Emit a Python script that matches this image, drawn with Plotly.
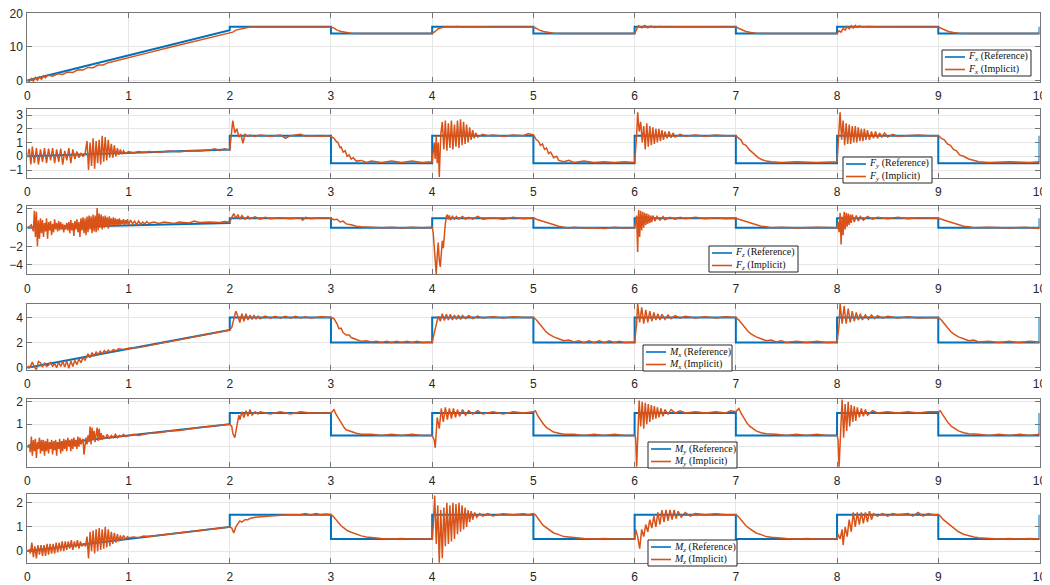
import plotly.graph_objects as go

# browser page has an 8px body margin; the figure is sized so it fits the 1050x585 window
OFF = 8
W, H = 1050 - OFF, 585 - OFF

# ---------------- data ----------------
t_ref = [0, 2, 2, 3, 3, 4, 4, 5, 5, 6, 6, 7, 7, 8, 8, 9, 9, 10, 10]
fx_ref = [0, 15, 16, 16, 14, 14, 16, 16, 14, 14, 16, 16, 14, 14, 16, 16, 14, 14, 16]
fy_ref = [0, 0.5, 1.5, 1.5, -0.5, -0.5, 1.5, 1.5, -0.5, -0.5, 1.5, 1.5, -0.5, -0.5, 1.5, 1.5, -0.5, -0.5, 1.5]
fz_ref = [0, 0.5, 1, 1, 0, 0, 1, 1, 0, 0, 1, 1, 0, 0, 1, 1, 0, 0, 1]
mx_ref = [0, 3, 4, 4, 2, 2, 4, 4, 2, 2, 4, 4, 2, 2, 4, 4, 2, 2, 4]
my_ref = [0, 1, 1.5, 1.5, 0.5, 0.5, 1.5, 1.5, 0.5, 0.5, 1.5, 1.5, 0.5, 0.5, 1.5, 1.5, 0.5, 0.5, 1.5]
mz_ref = [0, 1, 1.5, 1.5, 0.5, 0.5, 1.5, 1.5, 0.5, 0.5, 1.5, 1.5, 0.5, 0.5, 1.5, 1.5, 0.5, 0.5, 1.5]

fx_imp = [(0,0.2),(0.02,-0.3),(0.04,0.6),(0.06,-0.2),(0.08,0.9),(0.1,0.1),(0.12,1.1),(0.14,0.4),(0.16,1.4),(0.18,0.8),
          (0.2,1.6),(0.25,1.3),(0.3,2.0),(0.35,1.8),(0.4,2.5),(0.45,2.4),(0.5,3.2),(0.55,3.1),(0.6,3.9),(0.65,3.8),
          (0.7,4.6),(0.75,4.6),(0.8,5.3),(0.9,6.0),(1.0,6.8),(1.2,8.3),(1.4,9.8),(1.6,11.3),(1.8,12.8),(1.95,13.9),
          (2.0,14.2),(2.03,14.4),(2.06,15.0),(2.1,15.3),(2.15,15.7),(2.2,15.9),(2.3,15.9),(2.5,15.9),(2.7,15.9),(2.9,15.9),
          (3.0,15.9),(3.03,15.6),(3.06,15.0),(3.1,14.6),(3.15,14.3),(3.2,14.1),(3.3,14.0),(3.6,14.0),(4.0,14.0),
          (4.03,14.6),(4.06,15.4),(4.1,15.8),(4.15,16.1),(4.2,15.9),(4.25,16.1),(4.3,15.9),(4.4,16.0),(4.6,15.9),(5.0,15.9),
          (5.03,15.5),(5.06,15.0),(5.1,14.6),(5.15,14.3),(5.2,14.1),(5.3,14.0),(6.0,14.0),
          (6.02,15.2),(6.04,16.3),(6.07,15.7),(6.1,16.4),(6.13,15.7),(6.16,16.2),(6.2,15.8),(6.25,16.1),(6.3,15.9),(6.5,16.0),(7.0,15.9),
          (7.03,15.5),(7.06,15.0),(7.1,14.6),(7.15,14.3),(7.2,14.1),(7.3,14.0),(8.0,14.0),
          (8.02,14.8),(8.04,14.4),(8.06,15.5),(8.08,15.0),(8.1,16.0),(8.12,15.4),(8.14,16.3),(8.16,15.6),(8.18,16.4),(8.2,15.8),
          (8.22,16.3),(8.25,15.9),(8.3,16.1),(8.4,16.0),(9.0,15.9),
          (9.03,15.5),(9.06,15.0),(9.1,14.6),(9.15,14.3),(9.2,14.1),(9.3,14.0),(10.0,14.0)]

fy_imp = [(0,0.0),(0.02,0.55),(0.035,-0.6),(0.05,0.7),(0.07,-0.5),(0.09,0.6),(0.11,-0.6),(0.13,0.5),(0.15,-0.4),(0.17,0.6),
          (0.19,-0.5),(0.21,0.55),(0.23,-0.3),(0.25,0.6),(0.27,-0.5),(0.29,0.5),(0.31,-0.4),(0.33,0.55),(0.35,-0.6),(0.37,0.4),
          (0.39,-0.3),(0.41,0.6),(0.43,-0.5),(0.45,0.5),(0.47,-0.2),(0.49,0.35),(0.51,-0.1),(0.53,0.2),(0.55,0.0),(0.57,0.15),
          (0.59,1.1),(0.605,-1.0),(0.62,1.0),(0.635,-0.7),(0.65,1.3),(0.665,-0.9),(0.68,1.1),(0.695,-0.5),(0.71,1.2),(0.725,-0.6),
          (0.74,1.5),(0.755,-0.4),(0.77,1.4),(0.785,-0.3),(0.8,1.2),(0.815,-0.1),(0.83,0.9),(0.845,-0.1),(0.86,0.8),(0.875,0.0),
          (0.89,0.6),(0.905,0.1),(0.92,0.5),(0.935,0.15),(0.95,0.4),(0.97,0.2),(1.0,0.35),(1.05,0.25),(1.1,0.35),(1.15,0.28),
          (1.2,0.35),(1.3,0.3),(1.4,0.38),(1.5,0.33),(1.6,0.4),(1.7,0.38),(1.8,0.45),(1.85,0.55),(1.9,0.42),(1.95,0.55),(2.0,0.45),
          (2.02,1.6),(2.03,2.6),(2.05,1.7),(2.07,2.0),(2.09,1.4),(2.11,1.6),(2.13,0.95),(2.15,1.6),(2.18,1.45),(2.2,1.55),
          (2.25,1.45),(2.3,1.55),(2.4,1.45),(2.5,1.55),(2.55,1.3),(2.6,1.5),(2.7,1.6),(2.75,1.45),(2.8,1.5),(2.9,1.45),(2.95,1.5),(3.0,1.45),
          (3.03,1.3),(3.05,1.1),(3.07,1.0),(3.09,0.6),(3.1,0.7),(3.12,0.3),(3.14,0.4),(3.16,0.0),(3.18,0.1),(3.2,-0.2),(3.22,-0.1),
          (3.25,-0.35),(3.3,-0.3),(3.35,-0.45),(3.4,-0.35),(3.5,-0.45),(3.6,-0.35),(3.7,-0.45),(3.8,-0.35),(3.9,-0.45),(4.0,-0.4),
          (4.01,0.2),(4.02,1.0),(4.03,-0.2),(4.04,1.5),(4.05,-0.5),(4.06,1.0),(4.07,-1.5),(4.085,1.6),(4.1,2.5),(4.115,0.5),
          (4.13,2.6),(4.145,0.4),(4.16,2.4),(4.175,0.6),(4.19,2.6),(4.205,0.5),(4.22,2.3),(4.235,0.7),(4.25,2.6),(4.265,0.6),
          (4.28,2.7),(4.295,0.8),(4.31,2.5),(4.325,0.9),(4.34,2.3),(4.355,1.0),(4.37,2.1),(4.385,1.2),(4.4,1.9),(4.415,1.3),
          (4.43,1.7),(4.45,1.4),(4.5,1.6),(4.55,1.5),(4.6,1.55),(4.7,1.45),(4.8,1.55),(4.9,1.5),(4.95,1.65),(5.0,1.55),
          (5.03,1.2),(5.05,1.1),(5.07,0.8),(5.09,0.9),(5.11,0.5),(5.13,0.6),(5.15,0.2),(5.17,0.3),(5.2,-0.1),(5.23,0.0),
          (5.25,-0.3),(5.3,-0.4),(5.35,-0.3),(5.4,-0.45),(5.5,-0.35),(5.6,-0.45),(5.7,-0.4),(5.8,-0.45),(5.9,-0.4),(6.0,-0.45),
          (6.02,1.5),(6.03,3.2),(6.045,1.8),(6.06,2.5),(6.075,1.0),(6.09,2.2),(6.105,0.5),(6.12,2.4),(6.135,0.7),(6.15,2.2),
          (6.165,0.8),(6.18,2.1),(6.195,0.9),(6.21,2.0),(6.225,1.0),(6.24,2.0),(6.255,1.1),(6.27,1.9),(6.285,1.2),(6.3,1.8),
          (6.32,1.3),(6.34,1.8),(6.36,1.35),(6.38,1.7),(6.4,1.4),(6.45,1.6),(6.5,1.45),(6.6,1.55),(6.7,1.45),(6.8,1.55),(6.9,1.5),(7.0,1.5),
          (7.03,1.3),(7.05,1.2),(7.07,0.9),(7.1,0.8),(7.13,0.5),(7.16,0.3),(7.19,0.1),(7.22,-0.1),(7.26,-0.25),(7.3,-0.35),
          (7.35,-0.4),(7.45,-0.45),(7.6,-0.4),(7.8,-0.45),(8.0,-0.4),
          (8.02,1.8),(8.03,3.2),(8.045,1.2),(8.06,2.6),(8.075,0.8),(8.09,2.4),(8.105,0.9),(8.12,2.3),(8.135,0.9),(8.15,2.2),
          (8.165,1.0),(8.18,2.2),(8.195,1.0),(8.21,2.1),(8.225,1.1),(8.24,2.0),(8.255,1.1),(8.27,2.0),(8.285,1.2),(8.3,1.9),
          (8.32,1.2),(8.34,1.8),(8.36,1.3),(8.38,1.8),(8.4,1.3),(8.42,1.7),(8.44,1.4),(8.47,1.7),(8.5,1.4),(8.55,1.6),
          (8.6,1.45),(8.7,1.5),(8.8,1.55),(8.9,1.5),(9.0,1.5),
          (9.03,1.3),(9.06,1.2),(9.09,0.9),(9.12,0.8),(9.15,0.5),(9.18,0.4),(9.21,0.1),(9.25,0.0),(9.3,-0.2),(9.35,-0.3),
          (9.4,-0.4),(9.5,-0.45),(9.7,-0.4),(9.9,-0.45),(10.0,-0.4)]

fz_imp = [(0,0.0),(0.02,0.1),(0.04,0.3),(0.06,-0.4),(0.07,1.8),(0.08,-1.0),(0.09,1.7),(0.1,-2.0),(0.11,0.8),(0.12,-1.2),
          (0.13,1.0),(0.14,-0.6),(0.15,0.8),(0.16,-1.0),(0.17,0.5),(0.18,-0.4),(0.19,1.0),(0.2,-1.2),(0.21,0.6),(0.22,-0.3),
          (0.23,0.7),(0.24,-0.8),(0.25,0.4),(0.26,-0.5),(0.27,0.9),(0.28,-0.2),(0.29,0.5),(0.3,-0.4),(0.31,0.7),(0.32,-0.3),
          (0.33,0.6),(0.34,-0.2),(0.35,0.4),(0.36,-0.5),(0.37,0.3),(0.38,-0.2),(0.39,0.5),(0.4,-0.3),(0.41,0.6),(0.42,-0.6),
          (0.43,0.8),(0.44,-0.3),(0.45,0.5),(0.46,-0.9),(0.47,0.7),(0.48,-0.2),(0.49,0.9),(0.5,-0.5),(0.51,0.6),(0.52,-1.0),
          (0.53,1.0),(0.54,-0.3),(0.55,1.1),(0.56,-0.6),(0.57,1.0),(0.58,-0.8),(0.59,1.2),(0.6,-0.5),(0.61,1.3),(0.62,-0.2),
          (0.63,1.2),(0.64,-0.6),(0.65,1.4),(0.66,-0.4),(0.67,1.3),(0.68,-0.5),(0.69,2.1),(0.7,-0.3),(0.71,1.5),(0.72,0.0),
          (0.73,1.4),(0.74,-0.2),(0.75,1.2),(0.76,0.0),(0.77,1.3),(0.78,0.1),(0.79,1.1),(0.8,-0.1),(0.81,1.2),(0.82,0.2),
          (0.83,1.0),(0.84,0.1),(0.85,1.1),(0.86,0.3),(0.87,1.0),(0.88,0.2),(0.89,0.9),(0.9,0.3),(0.91,1.0),(0.92,0.2),
          (0.93,0.8),(0.94,0.4),(0.95,0.9),(0.96,0.3),(0.97,0.8),(0.98,0.4),(0.99,0.9),(1.0,0.3),(1.02,0.8),(1.04,0.4),
          (1.06,0.7),(1.08,0.3),(1.1,0.7),(1.12,0.35),(1.14,0.6),(1.16,0.4),(1.18,0.65),(1.2,0.45),(1.25,0.6),(1.3,0.45),
          (1.35,0.6),(1.4,0.5),(1.45,0.45),(1.5,0.6),(1.6,0.5),(1.65,0.7),(1.7,0.55),(1.8,0.6),(1.9,0.55),(1.95,0.65),(2.0,0.6),
          (2.02,1.1),(2.04,1.5),(2.06,1.0),(2.08,1.4),(2.1,0.9),(2.12,1.3),(2.15,0.9),(2.18,1.2),(2.2,0.95),(2.25,1.15),
          (2.3,0.9),(2.35,1.1),(2.4,0.95),(2.5,1.05),(2.6,0.95),(2.7,1.05),(2.72,0.8),(2.75,1.1),(2.8,0.95),(2.9,1.05),(3.0,1.0),
          (3.03,0.85),(3.06,0.9),(3.09,0.6),(3.12,0.7),(3.15,0.4),(3.2,0.3),(3.25,0.15),(3.3,0.1),(3.4,0.05),(3.5,0.0),
          (3.6,0.05),(3.7,-0.05),(3.8,0.05),(3.9,0.0),(4.0,0.05),
          (4.01,-0.5),(4.02,-2.0),(4.03,-4.0),(4.04,-5.0),(4.05,-3.0),(4.06,-1.6),(4.07,-3.5),(4.08,-4.2),(4.09,-2.8),(4.1,-1.4),
          (4.11,-2.2),(4.12,-0.6),(4.13,0.4),(4.14,1.2),(4.15,1.4),(4.16,0.9),(4.17,1.3),(4.18,0.8),(4.2,1.2),(4.22,0.9),
          (4.24,1.2),(4.26,0.9),(4.3,1.2),(4.33,0.9),(4.36,1.1),(4.4,0.9),(4.45,1.2),(4.5,0.9),(4.6,1.05),(4.7,0.9),(4.8,1.1),
          (4.9,0.95),(5.0,1.05),
          (5.03,0.9),(5.06,0.8),(5.1,0.6),(5.15,0.45),(5.2,0.3),(5.25,0.15),(5.3,0.05),(5.35,-0.05),(5.4,0.05),(5.5,-0.05),
          (5.6,0.0),(5.7,-0.1),(5.8,0.05),(5.9,-0.05),(6.0,0.0),
          (6.01,0.5),(6.02,1.3),(6.03,-2.6),(6.04,1.9),(6.05,-1.0),(6.06,1.8),(6.07,-0.3),(6.08,1.7),(6.09,0.0),(6.1,1.6),
          (6.11,0.3),(6.12,1.5),(6.13,0.4),(6.14,1.4),(6.15,0.5),(6.16,1.3),(6.17,0.6),(6.18,1.3),(6.2,0.7),(6.22,1.2),
          (6.25,0.8),(6.28,1.2),(6.3,0.85),(6.35,1.1),(6.4,0.9),(6.45,1.1),(6.5,0.95),(6.6,1.1),(6.7,0.95),(6.8,1.05),(6.9,0.95),(7.0,1.0),
          (7.03,0.9),(7.06,0.8),(7.1,0.6),(7.15,0.45),(7.2,0.3),(7.25,0.15),(7.3,0.1),(7.35,0.0),(7.45,0.05),(7.6,-0.05),(7.8,0.05),(8.0,0.0),
          (8.01,0.6),(8.02,-0.5),(8.03,1.6),(8.04,-1.8),(8.05,1.2),(8.06,-0.8),(8.07,1.7),(8.08,-0.2),(8.09,1.6),(8.1,0.1),
          (8.11,1.5),(8.12,0.3),(8.13,1.4),(8.14,0.5),(8.15,1.4),(8.17,0.6),(8.19,1.3),(8.21,0.7),(8.23,1.2),(8.26,0.8),
          (8.3,1.2),(8.35,0.9),(8.4,1.1),(8.5,0.95),(8.6,1.1),(8.7,0.95),(8.8,1.05),(9.0,1.0),
          (9.03,0.9),(9.06,0.8),(9.1,0.6),(9.15,0.45),(9.2,0.3),(9.25,0.15),(9.3,0.1),(9.35,0.0),(9.5,0.05),(9.7,-0.05),(9.85,0.05),(10.0,-0.1)]

mx_imp = [(0,0.1),(0.03,0.1),(0.05,0.45),(0.07,0.05),(0.09,-0.15),(0.11,0.5),(0.13,0.4),(0.15,0.05),(0.17,0.4),(0.19,0.1),
          (0.21,0.2),(0.23,0.45),(0.25,0.1),(0.27,0.35),(0.29,0.0),(0.31,0.45),(0.33,0.1),(0.35,0.5),(0.37,0.05),(0.39,0.55),
          (0.41,-0.05),(0.43,0.55),(0.45,0.1),(0.47,0.6),(0.49,0.25),(0.51,0.7),(0.53,0.4),(0.55,0.8),(0.57,0.6),(0.6,1.1),
          (0.62,0.8),(0.64,1.2),(0.66,0.95),(0.68,1.25),(0.7,1.05),(0.72,1.3),(0.74,1.1),(0.76,1.35),(0.78,1.2),(0.8,1.4),
          (0.82,1.25),(0.85,1.45),(0.88,1.35),(0.9,1.5),(0.95,1.45),(1.0,1.55),(1.1,1.6),(1.2,1.75),(1.3,1.9),(1.4,2.05),
          (1.5,2.2),(1.6,2.4),(1.7,2.55),(1.8,2.7),(1.9,2.85),(2.0,3.0),
          (2.02,3.2),(2.04,3.9),(2.06,4.5),(2.08,4.1),(2.1,3.6),(2.12,4.3),(2.14,3.7),(2.16,4.3),(2.18,3.8),(2.2,4.2),
          (2.22,3.85),(2.24,4.15),(2.26,3.9),(2.28,4.1),(2.3,3.9),(2.35,4.1),(2.4,3.95),(2.45,4.1),(2.5,3.95),(2.55,4.1),
          (2.6,3.95),(2.65,4.1),(2.7,3.95),(2.75,4.05),(2.8,3.95),(2.9,4.05),(3.0,4.0),
          (3.03,3.9),(3.06,3.5),(3.08,3.1),(3.1,3.15),(3.12,2.8),(3.15,2.6),(3.18,2.6),(3.2,2.4),(3.25,2.25),(3.3,2.1),
          (3.35,2.15),(3.4,2.05),(3.45,2.1),(3.5,2.0),(3.55,2.1),(3.6,2.0),(3.65,2.1),(3.7,2.0),(3.75,2.1),(3.8,2.0),
          (3.85,2.1),(3.9,2.0),(4.0,2.05),
          (4.02,2.8),(4.04,3.6),(4.06,4.1),(4.08,3.7),(4.1,4.3),(4.12,3.75),(4.14,4.25),(4.16,3.8),(4.18,4.25),(4.2,3.8),
          (4.22,4.2),(4.24,3.85),(4.26,4.2),(4.28,3.85),(4.3,4.15),(4.33,3.9),(4.36,4.15),(4.4,3.9),(4.45,4.1),(4.5,3.95),
          (4.6,4.05),(4.7,3.95),(4.8,4.05),(4.9,4.0),(5.0,4.0),
          (5.03,3.8),(5.06,3.5),(5.09,3.2),(5.12,2.9),(5.15,2.7),(5.2,2.45),(5.25,2.3),(5.3,2.15),(5.35,2.2),(5.4,2.05),
          (5.45,2.15),(5.5,2.0),(5.55,2.15),(5.6,2.0),(5.65,2.15),(5.7,2.0),(5.75,2.15),(5.8,2.0),(5.85,2.1),(5.9,2.0),(6.0,2.05),
          (6.02,3.5),(6.03,5.1),(6.05,3.6),(6.07,4.8),(6.09,3.5),(6.11,4.6),(6.13,3.6),(6.15,4.5),(6.17,3.7),(6.19,4.4),
          (6.21,3.8),(6.23,4.3),(6.25,3.8),(6.27,4.25),(6.3,3.85),(6.33,4.2),(6.36,3.9),(6.4,4.15),(6.45,3.95),(6.5,4.1),
          (6.6,3.95),(6.7,4.05),(6.8,3.95),(6.9,4.05),(7.0,4.0),
          (7.03,3.8),(7.06,3.5),(7.09,3.2),(7.12,2.9),(7.15,2.7),(7.2,2.45),(7.25,2.3),(7.3,2.15),(7.35,2.2),(7.4,2.05),
          (7.45,2.15),(7.5,2.0),(7.6,2.1),(7.7,2.0),(7.8,2.1),(7.9,2.0),(8.0,2.05),
          (8.02,3.4),(8.03,5.1),(8.05,3.5),(8.07,4.9),(8.09,3.5),(8.11,4.7),(8.13,3.6),(8.15,4.5),(8.17,3.7),(8.19,4.4),
          (8.21,3.8),(8.23,4.3),(8.25,3.8),(8.28,4.2),(8.31,3.85),(8.34,4.2),(8.37,3.9),(8.4,4.15),(8.45,3.95),(8.5,4.1),
          (8.6,3.95),(8.7,4.05),(8.8,3.95),(9.0,4.0),
          (9.03,3.8),(9.06,3.5),(9.09,3.2),(9.12,2.9),(9.15,2.7),(9.2,2.45),(9.25,2.3),(9.3,2.15),(9.35,2.2),(9.4,2.05),
          (9.5,2.1),(9.6,2.0),(9.7,2.1),(9.8,2.0),(9.9,2.1),(10.0,2.05)]

my_imp = [(0,0.0),(0.02,0.1),(0.03,-0.25),(0.04,0.45),(0.05,-0.4),(0.06,0.3),(0.07,-0.2),(0.08,0.35),(0.09,-0.5),(0.1,0.2),
          (0.11,-0.1),(0.12,0.4),(0.13,-0.3),(0.14,0.3),(0.15,-0.2),(0.16,0.3),(0.17,-0.4),(0.18,0.25),(0.19,-0.2),(0.2,0.35),
          (0.21,-0.3),(0.22,0.2),(0.23,-0.1),(0.24,0.3),(0.25,-0.35),(0.26,0.25),(0.27,-0.15),(0.28,0.3),(0.29,-0.4),(0.3,0.2),
          (0.31,-0.1),(0.32,0.35),(0.33,-0.3),(0.34,0.25),(0.35,-0.2),(0.36,0.35),(0.37,-0.1),(0.38,0.3),(0.39,-0.2),(0.4,0.4),
          (0.41,0.0),(0.42,0.3),(0.43,-0.2),(0.44,0.35),(0.45,-0.1),(0.46,0.4),(0.47,0.0),(0.48,0.3),(0.49,-0.1),(0.5,0.45),
          (0.51,0.0),(0.52,0.4),(0.53,0.1),(0.55,0.35),(0.56,-0.35),(0.57,0.2),(0.58,0.4),(0.59,0.1),(0.6,0.5),(0.61,0.2),
          (0.62,0.9),(0.63,0.1),(0.64,0.85),(0.65,0.3),(0.66,0.7),(0.67,0.2),(0.68,0.5),(0.69,0.85),(0.7,0.25),(0.71,0.8),
          (0.72,0.3),(0.73,0.6),(0.74,0.3),(0.75,0.5),(0.77,0.35),(0.79,0.55),(0.81,0.35),(0.83,0.5),(0.85,0.4),(0.87,0.55),
          (0.89,0.4),(0.91,0.5),(0.93,0.45),(0.95,0.55),(0.97,0.45),(1.0,0.5),(1.05,0.55),(1.1,0.5),(1.2,0.6),(1.3,0.62),
          (1.4,0.7),(1.5,0.72),(1.6,0.8),(1.7,0.85),(1.8,0.9),(1.9,0.95),(2.0,1.0),
          (2.02,0.9),(2.03,0.6),(2.05,0.4),(2.07,0.9),(2.09,1.4),(2.1,1.2),(2.12,1.55),(2.14,1.3),(2.16,1.6),(2.18,1.35),
          (2.2,1.65),(2.22,1.4),(2.25,1.55),(2.28,1.45),(2.3,1.55),(2.4,1.45),(2.5,1.55),(2.6,1.45),(2.7,1.55),(2.8,1.5),
          (2.9,1.5),(3.0,1.5),
          (3.02,1.6),(3.03,1.65),(3.05,1.45),(3.07,1.3),(3.09,1.1),(3.11,1.0),(3.13,0.85),(3.15,0.75),(3.18,0.7),(3.2,0.65),
          (3.25,0.6),(3.3,0.55),(3.4,0.55),(3.5,0.5),(3.6,0.55),(3.7,0.5),(3.8,0.55),(3.9,0.5),(4.0,0.5),
          (4.02,0.3),(4.03,-0.05),(4.05,1.3),(4.07,0.8),(4.09,1.7),(4.11,1.1),(4.13,1.75),(4.15,1.2),(4.17,1.7),(4.19,1.25),
          (4.21,1.7),(4.23,1.3),(4.25,1.65),(4.27,1.35),(4.3,1.65),(4.33,1.4),(4.36,1.6),(4.4,1.45),(4.45,1.6),(4.5,1.45),
          (4.6,1.55),(4.7,1.45),(4.8,1.55),(4.9,1.5),(5.0,1.55),
          (5.02,1.6),(5.04,1.4),(5.06,1.25),(5.08,1.1),(5.1,1.0),(5.13,0.85),(5.16,0.75),(5.2,0.65),(5.25,0.6),(5.3,0.55),
          (5.4,0.55),(5.5,0.5),(5.6,0.55),(5.7,0.5),(5.8,0.55),(5.9,0.5),(6.0,0.5),
          (6.01,0.4),(6.02,-0.9),(6.03,0.5),(6.045,2.05),(6.06,0.9),(6.075,2.0),(6.09,0.8),(6.105,1.95),(6.12,1.0),(6.135,1.9),
          (6.15,1.1),(6.165,1.85),(6.18,1.2),(6.195,1.8),(6.21,1.25),(6.225,1.75),(6.24,1.3),(6.26,1.7),(6.28,1.35),(6.3,1.65),
          (6.33,1.45),(6.36,1.65),(6.4,1.5),(6.45,1.6),(6.5,1.5),(6.6,1.55),(6.7,1.5),(6.8,1.55),(6.9,1.5),(6.95,1.6),(7.0,1.55),
          (7.02,1.65),(7.03,1.7),(7.05,1.5),(7.07,1.35),(7.09,1.2),(7.11,1.05),(7.14,0.9),(7.17,0.8),(7.2,0.7),(7.25,0.62),
          (7.3,0.58),(7.4,0.55),(7.5,0.5),(7.6,0.55),(7.7,0.5),(7.8,0.55),(7.9,0.5),(8.0,0.5),
          (8.01,0.3),(8.02,-0.9),(8.035,0.6),(8.05,2.1),(8.065,0.4),(8.08,1.9),(8.095,0.7),(8.11,2.0),(8.125,0.9),(8.14,1.85),
          (8.155,1.1),(8.17,1.8),(8.185,1.15),(8.2,1.75),(8.22,1.3),(8.24,1.7),(8.26,1.35),(8.28,1.65),(8.3,1.4),(8.35,1.6),
          (8.4,1.5),(8.5,1.55),(8.6,1.5),(8.7,1.55),(8.8,1.5),(8.9,1.55),(9.0,1.55),
          (9.02,1.6),(9.04,1.45),(9.06,1.3),(9.08,1.15),(9.1,1.05),(9.13,0.9),(9.16,0.8),(9.2,0.7),(9.25,0.62),(9.3,0.58),
          (9.4,0.55),(9.5,0.5),(9.6,0.55),(9.7,0.5),(9.8,0.55),(9.9,0.5),(10.0,0.55)]

mz_imp = [(0,0.0),(0.02,0.05),(0.03,-0.1),(0.045,0.35),(0.06,-0.25),(0.075,0.2),(0.09,-0.3),(0.105,0.25),(0.12,-0.15),(0.135,0.25),
          (0.15,-0.2),(0.165,0.25),(0.18,-0.2),(0.195,0.3),(0.21,-0.15),(0.225,0.3),(0.24,-0.1),(0.255,0.3),(0.27,-0.1),(0.285,0.35),
          (0.3,-0.05),(0.315,0.35),(0.33,0.0),(0.345,0.4),(0.36,0.0),(0.375,0.4),(0.39,0.05),(0.405,0.4),(0.42,0.1),(0.435,0.45),
          (0.45,0.05),(0.465,0.4),(0.48,0.15),(0.495,0.45),(0.51,0.1),(0.525,0.4),(0.54,0.2),(0.56,0.3),(0.575,0.2),(0.59,0.6),
          (0.605,-0.3),(0.62,0.8),(0.635,0.0),(0.65,0.85),(0.665,-0.1),(0.68,0.9),(0.695,0.0),(0.71,0.95),(0.725,0.05),(0.74,0.9),
          (0.755,0.1),(0.77,1.0),(0.785,0.15),(0.8,0.9),(0.815,0.2),(0.83,0.8),(0.845,0.3),(0.86,0.75),(0.875,0.35),(0.89,0.7),
          (0.905,0.4),(0.92,0.65),(0.935,0.45),(0.95,0.65),(0.97,0.5),(0.99,0.6),(1.0,0.55),(1.05,0.58),(1.1,0.55),(1.15,0.62),
          (1.2,0.6),(1.3,0.65),(1.4,0.7),(1.5,0.75),(1.6,0.8),(1.7,0.85),(1.8,0.9),(1.9,0.95),(2.0,1.0),
          (2.02,0.95),(2.03,0.8),(2.04,0.75),(2.06,1.0),(2.08,1.15),(2.1,1.25),(2.12,1.2),(2.15,1.3),(2.18,1.3),(2.2,1.35),
          (2.25,1.4),(2.3,1.42),(2.35,1.45),(2.4,1.47),(2.5,1.48),(2.6,1.5),(2.7,1.5),(2.75,1.55),(2.8,1.48),(2.85,1.55),
          (2.9,1.5),(2.95,1.53),(3.0,1.5),
          (3.02,1.45),(3.05,1.3),(3.08,1.15),(3.1,1.05),(3.13,0.95),(3.16,0.85),(3.2,0.78),(3.25,0.7),(3.3,0.63),(3.35,0.58),
          (3.4,0.55),(3.5,0.52),(3.6,0.5),(3.7,0.52),(3.8,0.5),(3.9,0.5),(4.0,0.5),
          (4.01,1.0),(4.025,2.3),(4.04,0.3),(4.055,1.9),(4.07,-0.5),(4.085,1.7),(4.1,-0.3),(4.115,1.8),(4.13,0.2),(4.145,2.0),
          (4.16,0.3),(4.175,1.9),(4.19,0.4),(4.205,2.0),(4.22,0.5),(4.235,1.95),(4.25,0.7),(4.265,2.0),(4.28,0.8),(4.295,1.9),
          (4.31,0.9),(4.325,1.8),(4.34,1.0),(4.355,1.7),(4.37,1.2),(4.385,1.65),(4.4,1.3),(4.42,1.6),(4.44,1.4),(4.47,1.55),
          (4.5,1.45),(4.55,1.55),(4.6,1.45),(4.7,1.55),(4.8,1.5),(4.9,1.55),(4.95,1.5),(5.0,1.55),
          (5.02,1.5),(5.05,1.3),(5.08,1.15),(5.1,1.05),(5.13,0.95),(5.16,0.85),(5.2,0.75),(5.25,0.68),(5.3,0.6),(5.35,0.58),
          (5.4,0.55),(5.5,0.52),(5.6,0.5),(5.7,0.52),(5.8,0.5),(5.9,0.5),(6.0,0.5),
          (6.01,0.9),(6.03,0.6),(6.05,0.1),(6.07,0.9),(6.09,0.6),(6.11,1.1),(6.13,0.8),(6.15,1.3),(6.17,0.95),(6.19,1.45),
          (6.21,1.0),(6.23,1.6),(6.25,1.1),(6.27,1.7),(6.29,1.2),(6.31,1.7),(6.33,1.25),(6.35,1.7),(6.37,1.3),(6.39,1.7),
          (6.41,1.35),(6.43,1.65),(6.46,1.4),(6.5,1.6),(6.55,1.45),(6.6,1.55),(6.7,1.5),(6.8,1.55),(6.9,1.5),(7.0,1.5),
          (7.02,1.45),(7.05,1.3),(7.08,1.15),(7.1,1.05),(7.13,0.95),(7.16,0.85),(7.2,0.75),(7.25,0.68),(7.3,0.6),(7.35,0.57),
          (7.4,0.55),(7.5,0.52),(7.6,0.5),(7.7,0.52),(7.8,0.5),(7.9,0.5),(8.0,0.5),
          (8.01,0.7),(8.03,0.5),(8.05,0.9),(8.06,0.25),(8.08,1.0),(8.1,0.6),(8.12,1.3),(8.14,0.8),(8.16,1.6),(8.18,1.0),
          (8.2,1.6),(8.22,1.1),(8.24,1.6),(8.26,1.15),(8.28,1.6),(8.3,1.2),(8.32,1.65),(8.34,1.3),(8.36,1.55),(8.4,1.45),
          (8.45,1.55),(8.5,1.45),(8.55,1.55),(8.6,1.5),(8.7,1.55),(8.75,1.45),(8.8,1.6),(8.85,1.45),(8.9,1.55),(8.95,1.5),(9.0,1.5),
          (9.02,1.45),(9.05,1.3),(9.08,1.2),(9.1,1.1),(9.13,1.0),(9.16,0.9),(9.2,0.8),(9.25,0.7),(9.3,0.63),(9.35,0.58),
          (9.4,0.55),(9.5,0.52),(9.6,0.5),(9.7,0.52),(9.8,0.5),(9.9,0.52),(10.0,0.5)]

symbols = ["<i>F</i><sub><i>x</i></sub>", "<i>F</i><sub><i>y</i></sub>", "<i>F</i><sub><i>z</i></sub>",
           "<i>M</i><sub><i>x</i></sub>", "<i>M</i><sub><i>y</i></sub>", "<i>M</i><sub><i>z</i></sub>"]
refs = [fx_ref, fy_ref, fz_ref, mx_ref, my_ref, mz_ref]
imps = [fx_imp, fy_imp, fz_imp, mx_imp, my_imp, mz_imp]
y_ranges = [[-0.45, 20.1], [-1.58, 3.44], [-5.0, 2.35], [-0.18, 5.07], [-0.89, 2.12], [-0.48, 2.35]]
y_ticks = [[0, 10, 20], [-1, 0, 1, 2, 3], [-4, -2, 0, 2], [0, 2, 4], [0, 1, 2], [0, 1, 2]]
x_ticks = [0, 1, 2, 3, 4, 5, 6, 7, 8, 9, 10]

# ---------------- layout (window pixel geometry) ----------------
X0, X1 = 27.3, 1039.5
panel_px = [(13, 82), (109, 178), (205.7, 274.3), (304, 370), (399, 466.7), (494.3, 562.7)]
legend_px = [(942, 50), (843, 157), (709, 246), (643, 345), (648, 442), (648, 540)]
LEG_W, LEG_H = 89, 26

BLUE = "#0072BD"
ORANGE = "#D95319"
AX = "#767676"
GRID = "#e6e6e6"


def px(x):
    return (x - OFF) / W


def py(y):
    return 1 - (y - OFF) / H


fig = go.Figure()
shapes = []
annotations = []
layout = {}

for i in range(6):
    k = "" if i == 0 else str(i + 1)
    xa, ya = "x" + k, "y" + k
    ti = [p[0] for p in imps[i]]
    vi = [p[1] for p in imps[i]]
    fig.add_trace(go.Scatter(x=t_ref, y=refs[i], mode="lines", line=dict(color=BLUE, width=2),
                             name="Reference", xaxis=xa, yaxis=ya, showlegend=False))
    fig.add_trace(go.Scatter(x=ti, y=vi, mode="lines", line=dict(color=ORANGE, width=1.5),
                             name="Implicit", xaxis=xa, yaxis=ya, showlegend=False))
    top, bot = panel_px[i]
    axis_common = dict(showline=True, linecolor=AX, linewidth=1, mirror="ticks", ticks="inside",
                       ticklen=5, tickwidth=1, tickcolor=AX, showgrid=True, gridcolor=GRID, gridwidth=1,
                       zeroline=False, automargin=False, ticklabeloverflow="allow",
                       tickfont=dict(family="Liberation Sans, Arial", size=12, color="#262626"))
    layout["xaxis" + k] = dict(domain=[px(X0), px(X1)], range=[0, 10], tickvals=x_ticks,
                               anchor=ya, ticklabelstandoff=3, **axis_common)
    layout["yaxis" + k] = dict(domain=[py(bot), py(top)], range=y_ranges[i], tickvals=y_ticks[i],
                               anchor=xa, ticklabelstandoff=1, **axis_common)
    # manual MATLAB-style legend box
    lx, ly = legend_px[i]
    shapes.append(dict(type="rect", xref="paper", yref="paper", x0=px(lx), x1=px(lx + LEG_W),
                       y0=py(ly + LEG_H), y1=py(ly), line=dict(color="#262626", width=1), fillcolor="white"))
    for j, (col, lab) in enumerate([(BLUE, "Reference"), (ORANGE, "Implicit")]):
        yy = ly + 7 + j * 12.5
        shapes.append(dict(type="line", xref="paper", yref="paper", x0=px(lx + 3), x1=px(lx + 23),
                           y0=py(yy), y1=py(yy), line=dict(color=col, width=1.6)))
        annotations.append(dict(xref="paper", yref="paper", x=px(lx + 24), y=py(yy), xanchor="left",
                                yanchor="middle", showarrow=False, text=symbols[i] + " (" + lab + ")",
                                font=dict(family="Liberation Serif, DejaVu Serif", size=10, color="#111111")))

fig.update_layout(width=W, height=H, margin=dict(l=0, r=0, t=0, b=0), paper_bgcolor="white",
                  plot_bgcolor="white", showlegend=False, shapes=shapes, annotations=annotations, **layout)

fig.write_html("out.html")
